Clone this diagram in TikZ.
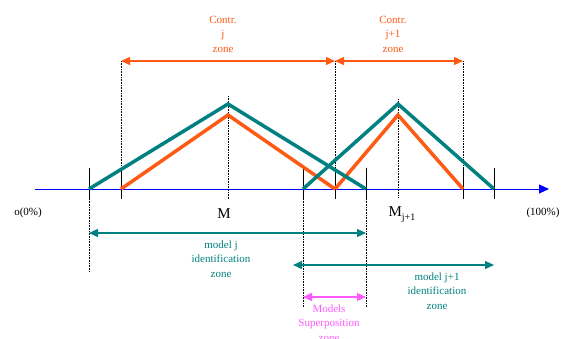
\documentclass[tikz,border=0pt]{standalone}
\usepackage{fontspec}
\setmainfont{Liberation Serif}
\usetikzlibrary{arrows.meta,positioning}
\definecolor{controrange}{RGB}{255,90,20}
\definecolor{identteal}{RGB}{0,128,128}
\definecolor{superpink}{RGB}{255,90,255}
\definecolor{axisblue}{RGB}{0,0,255}

\begin{document}
\begin{tikzpicture}[x=1pt,y=-1pt,
  tri/.style={line width=3.5pt},
  tickmark/.style={black,line width=0.8pt},
  guide/.style={black,densely dotted,line width=0.6pt},
  zonearrow/.style={line width=1.2pt,{Triangle[length=9pt,width=8pt]}-{Triangle[length=9pt,width=8pt]}},
  lbl/.style={align=center,font=\fontsize{11}{14.5}\selectfont,inner sep=0pt}]
  \useasboundingbox (0,0) rectangle (567,338);
  % points on the axis
  \foreach \x/\name in {89/ja,121/ca,228/mj,303/jb,335/cb,366/je,398/mk,463/ce,494/ke}{
    \coordinate (\name) at (\x,189);
  }
  \coordinate (jtop) at (228,104);
  \coordinate (ctop) at (228,115);
  \coordinate (ktop) at (398,104);
  \coordinate (dtop) at (398,115);
  % axis
  \draw[axisblue,line width=1pt,-{Triangle[length=10pt,width=9pt]}] (35,189) -- (549,189);
  \foreach \x in {89,121,303,335,366,463,494}{
    \draw[tickmark] (\x,168) -- (\x,199);
  }
  % dotted guides
  \foreach \x/\a/\b in {121/61/189,335/61/189,463/61/189,228/96/199,398/99/197,89/199/272,303/199/307,366/199/307}{
    \draw[guide] (\x,\a) -- (\x,\b);
  }
  % membership triangles
  \draw[tri,controrange] (ca) -- (ctop) -- (cb);
  \draw[tri,controrange] (cb) -- (dtop) -- (ce);
  \draw[tri,identteal] (ja) -- (jtop) -- (je);
  \draw[tri,identteal] (jb) -- (ktop) -- (ke);
  % zone arrows
  \coordinate (cl) at (121,61);
  \coordinate (cm) at (335,61);
  \coordinate (cr) at (463,61);
  \draw[zonearrow,controrange] (cl) -- (cm);
  \draw[zonearrow,controrange] (cm) -- (cr);
  \coordinate (il) at (89,233);
  \coordinate (ir) at (366,233);
  \draw[zonearrow,identteal] (il) -- (ir);
  \coordinate (kl) at (293,265);
  \coordinate (kr) at (494,265);
  \draw[zonearrow,identteal] (kl) -- (kr);
  \coordinate (sl) at (303,297);
  \coordinate (sr) at (366,297);
  \draw[zonearrow,superpink] (sl) -- (sr);
  % labels
  \node[lbl,text=controrange] (contrj) at (223,34) {Contr.\\j\\zone};
  \node[lbl,text=controrange] (contrk) at (393,34) {Contr.\\j+1\\zone};
  \node[lbl,text=identteal] (identj) at (221,259) {model j\\identification\\zone};
  \node[lbl,text=identteal] (identk) at (437,291) {model j+1\\identification\\zone};
  \node[lbl,text=superpink] (superp) at (329,323) {Models\\Superposition\\zone};
  \node[lbl] (zero) at (28,213) {o(0\%)};
  \node[lbl] (full) at (543,213) {(100\%)};
  \node[font=\fontsize{15}{15}\selectfont,inner sep=0pt] (mj) at (224,214) {M};
  \node[font=\fontsize{15}{15}\selectfont,inner sep=0pt] (mk) at (402,215) {M\raisebox{-4pt}{\fontsize{10}{10}\selectfont j+1}};
\end{tikzpicture}
\end{document}
